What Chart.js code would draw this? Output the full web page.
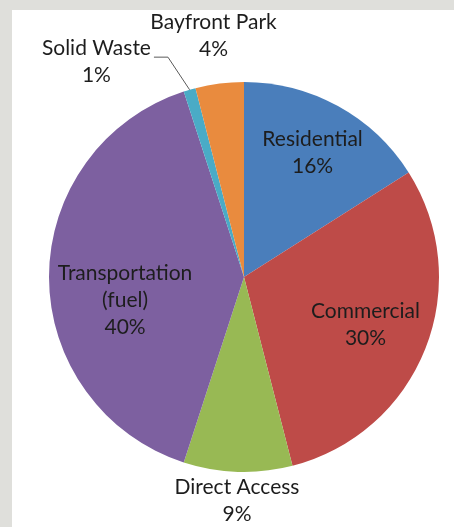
<!DOCTYPE html>
<html>
<head>
<meta charset="utf-8">
<script src="https://cdn.jsdelivr.net/npm/chart.js@4"></script>
<style>
  html, body { margin: 0; padding: 0; background: #dfdfdb; }
  #panel { position: absolute; left: 12px; top: 10px; right: 0; bottom: 0; background: #fff; }
  #wrap { position: absolute; left: 0; top: 0; width: 454px; height: 527px; }
</style>
</head>
<body>
<div id="panel"></div>
<div id="wrap"><canvas id="pieChart" width="454" height="527"></canvas></div>
<script>
const categories = ['Residential', 'Commercial', 'Direct Access', 'Transportation (fuel)', 'Solid Waste', 'Bayfront Park'];
const labelLines = [['Residential'], ['Commercial'], ['Direct Access'], ['Transportation', '(fuel)'], ['Solid Waste'], ['Bayfront Park']];
const shares = [16, 30, 9, 40, 1, 4];
const pctLabels = shares.map(v => v + '%');

const sliceColors = ['#4A7EBB', '#BE4B48', '#98B954', '#7D60A0', '#4AABC6', '#E98B3E'];
// label anchor as a fraction of the radius along the slice middle, plus a small nudge
const labelRadius = [0.73, 0.67, 1.15, 0.61, 1.15, 1.245];
const labelNudge = [[0, 0], [0, 0], [0, 0], [0, 23], [-85, 0], [0, 0]];
const leaderFor = 4;
const lineH = 27;

const pieLabels = {
  id: 'pieLabels',
  afterDatasetsDraw(chart) {
    const ctx = chart.ctx;
    const arcs = chart.getDatasetMeta(0).data;
    ctx.save();
    ctx.font = '21px Lato';
    ctx.fillStyle = '#1d1d1d';
    ctx.textAlign = 'center';
    ctx.textBaseline = 'middle';
    arcs.forEach((arc, i) => {
      const p = arc.getProps(['x', 'y', 'startAngle', 'endAngle', 'outerRadius'], true);
      const mid = (p.startAngle + p.endAngle) / 2;
      const r = p.outerRadius * labelRadius[i];
      const ax = p.x + Math.cos(mid) * r + labelNudge[i][0];
      const ay = p.y + Math.sin(mid) * r + labelNudge[i][1];
      const lines = labelLines[i].concat([pctLabels[i]]);
      const y0 = ay - (lines.length - 1) * lineH / 2;
      lines.forEach((t, j) => ctx.fillText(t, ax, y0 + j * lineH));
      if (i === leaderFor) {
        const w = ctx.measureText(lines[0]).width;
        const sx = ax + w / 2 + 3, sy = y0 + 9;
        const ex = p.x + Math.cos(mid) * p.outerRadius;
        const ey = p.y + Math.sin(mid) * p.outerRadius;
        ctx.strokeStyle = '#5a5a5a';
        ctx.lineWidth = 1;
        ctx.beginPath();
        ctx.moveTo(sx, sy);
        ctx.lineTo(sx + 14, sy);
        ctx.lineTo(ex, ey);
        ctx.stroke();
      }
    });
    ctx.restore();
  }
};

new Chart(document.getElementById('pieChart').getContext('2d'), {
  type: 'pie',
  data: {
    labels: categories,
    datasets: [{
      data: shares,
      backgroundColor: sliceColors,
      borderWidth: 0
    }]
  },
  options: {
    responsive: false,
    animation: false,
    layout: { padding: { left: 49, right: 15, top: 82, bottom: 55 } },
    plugins: { legend: { display: false }, tooltip: { enabled: false } }
  },
  plugins: [pieLabels]
});
</script>
</body>
</html>
